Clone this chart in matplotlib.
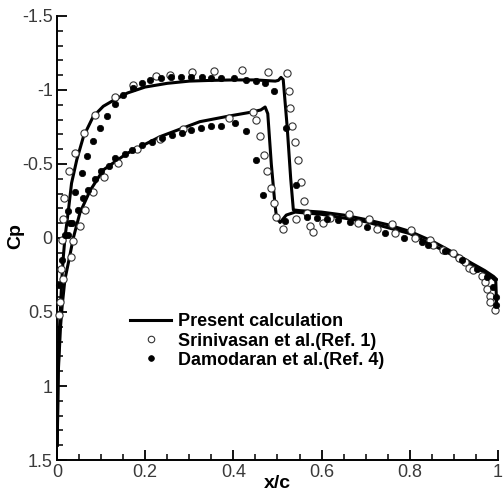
import numpy as np
import matplotlib
matplotlib.use("Agg")
import matplotlib.pyplot as plt

plt.rcParams['font.family'] = ['Liberation Sans', 'DejaVu Sans']

# ====== Data ======
# Present calculation, surface 1 (shock near x/c = 0.52)
calc1_x = [0.0005, 0.002, 0.005, 0.009, 0.011, 0.014, 0.018, 0.026, 0.033, 0.045,
           0.06, 0.082, 0.105, 0.128, 0.16, 0.2, 0.25, 0.3, 0.35, 0.4,
           0.45, 0.495, 0.502, 0.508, 0.513, 0.522, 0.53, 0.536, 0.55, 0.6,
           0.65, 0.7, 0.75, 0.8, 0.85, 0.9, 0.94, 0.97, 0.99, 0.997]
calc1_cp = [1.40, 1.00, 0.65, 0.40, 0.28, 0.14, 0.0, -0.19, -0.37, -0.53,
            -0.685, -0.82, -0.89, -0.93, -0.98, -1.02, -1.045, -1.06, -1.065, -1.068,
            -1.068, -1.06, -1.065, -1.085, -1.07, -0.75, -0.40, -0.19, -0.185, -0.175,
            -0.155, -0.125, -0.09, -0.045, 0.02, 0.10, 0.17, 0.22, 0.26, 0.28]

# Present calculation, surface 2 (shock near x/c = 0.48)
calc2_x = [0.0005, 0.003, 0.008, 0.012, 0.018, 0.027, 0.037, 0.052, 0.075, 0.105,
           0.158, 0.234, 0.324, 0.392, 0.44, 0.462, 0.472, 0.478, 0.486, 0.494,
           0.498, 0.506, 0.52, 0.54, 0.6, 0.7, 0.8, 0.9, 0.95, 0.98,
           0.995, 0.997]
calc2_cp = [1.40, 0.90, 0.60, 0.45, 0.28, 0.15, 0.0, -0.17, -0.32, -0.46,
            -0.57, -0.685, -0.786, -0.825, -0.85, -0.865, -0.885, -0.84, -0.50, -0.236,
            -0.135, -0.105, -0.155, -0.175, -0.16, -0.11, -0.03, 0.12, 0.20, 0.25,
            0.29, 0.45]

# Srinivasan et al. (Ref. 1)
srin_x = [0.005, 0.007, 0.008, 0.011, 0.014, 0.017, 0.028, 0.040, 0.061, 0.087,
          0.132, 0.173, 0.224, 0.256, 0.306, 0.357, 0.419, 0.478, 0.522,
          0.527, 0.528, 0.534, 0.540, 0.546, 0.553, 0.560,
          0.543, 0.566, 0.574, 0.581, 0.604, 0.619, 0.662, 0.682, 0.708, 0.725,
          0.759, 0.766, 0.803, 0.812, 0.846, 0.852, 0.876, 0.897, 0.912, 0.925,
          0.935, 0.944, 0.963, 0.971, 0.976, 0.981, 0.983, 0.993,
          0.014, 0.031, 0.036, 0.052, 0.064, 0.082, 0.107, 0.139, 0.182, 0.234,
          0.286, 0.389, 0.444, 0.451, 0.46, 0.469, 0.477, 0.486, 0.492, 0.497,
          0.513]
srin_cp = [0.52, 0.43, 0.21, 0.014, -0.13, -0.27, -0.45, -0.575, -0.71, -0.83,
           -0.955, -1.034, -1.095, -1.10, -1.124, -1.128, -1.135, -1.124, -1.117,
           -0.995, -0.876, -0.76, -0.65, -0.527, -0.38, -0.25,
           -0.128, -0.167, -0.08, -0.04, -0.10, -0.133, -0.165, -0.10, -0.128, -0.06,
           -0.093, -0.032, -0.052, 0.0, 0.012, 0.045, 0.08, 0.10, 0.137, 0.16,
           0.205, 0.216, 0.257, 0.295, 0.347, 0.39, 0.43, 0.486,
           0.28, 0.126, 0.02, -0.08, -0.19, -0.31, -0.415, -0.505, -0.598, -0.667,
           -0.735, -0.81, -0.853, -0.797, -0.69, -0.56, -0.45, -0.336, -0.235, -0.14,
           -0.064]

# Damodaran et al. (Ref. 4)
damo_x = [0.005, 0.011, 0.024, 0.026, 0.029, 0.041, 0.056, 0.069, 0.082, 0.098,
          0.114, 0.132, 0.150, 0.172, 0.192, 0.212, 0.236, 0.258, 0.281, 0.304,
          0.328, 0.349, 0.373, 0.402, 0.429, 0.451, 0.472, 0.492, 0.519, 0.543,
          0.018, 0.033, 0.048, 0.060, 0.071, 0.086, 0.100, 0.118, 0.132, 0.154,
          0.169, 0.192, 0.215, 0.238, 0.260, 0.283, 0.305, 0.326, 0.349, 0.373,
          0.404, 0.429, 0.451, 0.468, 0.517,
          0.566, 0.589, 0.613, 0.638, 0.664, 0.702, 0.744, 0.787, 0.827, 0.842,
          0.880, 0.918, 0.952, 0.974, 0.989, 0.995, 0.996]
damo_cp = [0.32, 0.15, -0.02, -0.18, -0.10, -0.31, -0.44, -0.554, -0.655, -0.745,
           -0.824, -0.905, -0.966, -1.011, -1.045, -1.068, -1.079, -1.09, -1.09, -1.09,
           -1.09, -1.083, -1.079, -1.079, -1.068, -1.061, -1.05, -0.995, -0.745, -0.358,
           -0.02, -0.10, -0.19, -0.27, -0.324, -0.396, -0.453, -0.486, -0.538, -0.568,
           -0.595, -0.628, -0.65, -0.675, -0.696, -0.71, -0.73, -0.74, -0.757, -0.757,
           -0.775, -0.72, -0.527, -0.29, -0.115,
           -0.144, -0.133, -0.13, -0.122, -0.11, -0.074, -0.036, 0.0, 0.025, 0.047,
           0.086, 0.149, 0.21, 0.266, 0.33, 0.40, 0.453]

x_ticks = [0, 0.2, 0.4, 0.6, 0.8, 1]
x_ticklabels = ["0", "0.2", "0.4", "0.6", "0.8", "1"]
y_ticks = [-1.5, -1, -0.5, 0, 0.5, 1, 1.5]
y_ticklabels = ["-1.5", "-1", "-0.5", "0", "0.5", "1", "1.5"]

# ====== Plot ======
fig = plt.figure(figsize=(5.03, 4.95), dpi=100)
ax = fig.add_axes([0.1133, 0.0707, 0.8767, 0.897])

ax.plot(calc1_x, calc1_cp, color='black', lw=2.2, label="Present calculation")
ax.plot(calc2_x, calc2_cp, color='black', lw=2.2)
ax.plot(srin_x, srin_cp, 'o', ms=5.2, mfc='white', mec='#333333', mew=0.8,
        label="Srinivasan et al.(Ref. 1)", clip_on=False, zorder=3)
ax.plot(damo_x, damo_cp, 'o', ms=4.6, mfc='black', mec='black', mew=0.5,
        label="Damodaran et al.(Ref. 4)", clip_on=False, zorder=3)

ax.set_xlim(0, 1)
ax.set_ylim(1.5, -1.5)
ax.set_xticks(x_ticks)
ax.set_xticklabels(x_ticklabels)
ax.set_yticks(y_ticks)
ax.set_yticklabels(y_ticklabels)
ax.set_xticks(np.arange(0, 1.0001, 0.05), minor=True)
ax.set_yticks(np.arange(-1.5, 1.5001, 0.1), minor=True)

for side in ['top', 'right']:
    ax.spines[side].set_visible(False)
for side in ['left', 'bottom']:
    ax.spines[side].set_linewidth(1.4)

ax.tick_params(which='major', direction='in', length=7, width=1.3,
               labelsize=13, labelcolor='#3a3a3a', pad=3)
ax.tick_params(which='minor', direction='in', length=4, width=1.1)

ax.set_xlabel("x/c", fontsize=14, fontweight='bold')
ax.xaxis.set_label_coords(0.5, -0.034)
ax.set_ylabel("Cp", fontsize=14, fontweight='bold')
ax.yaxis.set_label_coords(-0.074, 0.505)

ax.legend(loc='center left', bbox_to_anchor=(0.258, 0.311),
          bbox_transform=fig.transFigure, frameon=False,
          prop={'size': 13, 'weight': 'bold'}, borderpad=0, borderaxespad=0,
          handlelength=2.3, handletextpad=0.35, labelspacing=0.12, markerscale=0.9)

fig.savefig("out.png", dpi=100)
